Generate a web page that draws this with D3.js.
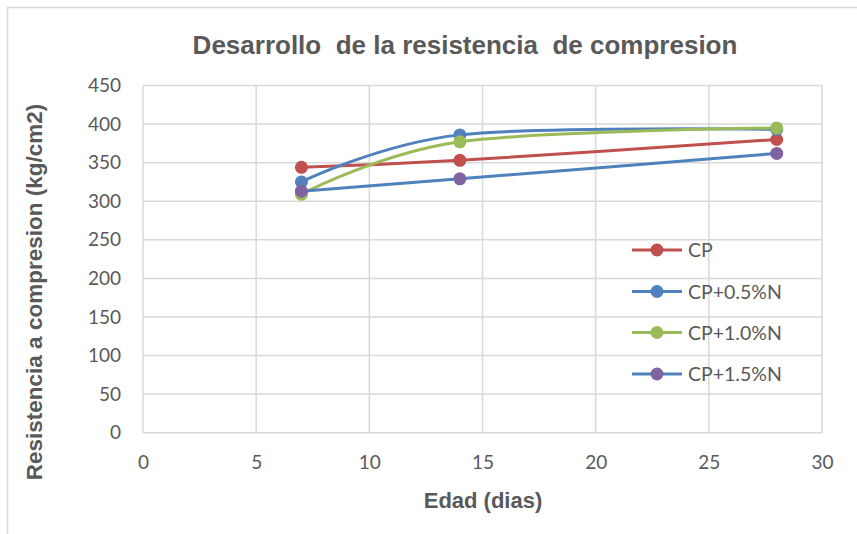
<!DOCTYPE html>
<html>
<head>
<meta charset="utf-8">
<script src="https://cdn.jsdelivr.net/npm/d3@7"></script>
<style>
  html, body { margin: 0; padding: 0; background: #fff; }
  svg { display: block; }
  text { white-space: pre; }
</style>
</head>
<body>
<svg id="chart" width="857" height="534"></svg>
<script>
// Compressive strength development by age (days)
const ages = [7, 14, 28];
const seriesNames = ["CP", "CP+0.5%N", "CP+1.0%N", "CP+1.5%N"];
const cp     = [344, 353, 380];
const cp05   = [325, 386, 393];
const cp10   = [309, 377, 395];
const cp15   = [313, 329, 362];
const xTicks = [0, 5, 10, 15, 20, 25, 30];
const yTicks = [0, 50, 100, 150, 200, 250, 300, 350, 400, 450];

const lineColors   = ["#C0504D", "#4F81BD", "#9BBB59", "#4F81BD"];
const markerColors = ["#C0504D", "#4F81BD", "#9BBB59", "#8064A2"];
const seriesValues = [cp, cp05, cp10, cp15];

const svg = d3.select("#chart");
const W = 857, H = 534;
const plot = { left: 143, right: 822, top: 85.5, bottom: 432.7 };

// outer chart frame
svg.append("rect").attr("x", 7.5).attr("y", 7.5).attr("width", W + 10).attr("height", H + 10)
  .attr("fill", "#fff").attr("stroke", "#d9d9d9").attr("stroke-width", 1.5);

const x = d3.scaleLinear().domain([0, 30]).range([plot.left, plot.right]);
const y = d3.scaleLinear().domain([0, 450]).range([plot.bottom, plot.top]);

const grid = svg.append("g");
grid.selectAll("line.h").data(yTicks).join("line")
  .attr("x1", plot.left).attr("x2", plot.right)
  .attr("y1", d => y(d)).attr("y2", d => y(d))
  .attr("stroke", "#d9d9d9").attr("stroke-width", 1.5);
grid.selectAll("line.v").data(xTicks).join("line")
  .attr("y1", plot.top).attr("y2", plot.bottom)
  .attr("x1", d => x(d)).attr("x2", d => x(d))
  .attr("stroke", "#d9d9d9").attr("stroke-width", 1.5);

const tickFont = "Lato, 'Open Sans', sans-serif";
// y axis
const yAxis = svg.append("g").attr("transform", `translate(${plot.left},0)`)
  .call(d3.axisLeft(y).tickValues(yTicks).tickSize(0).tickPadding(22));
yAxis.select(".domain").remove();
yAxis.selectAll("text").attr("font-family", tickFont).attr("font-size", 19).attr("fill", "#595959");

// x axis
const xAxis = svg.append("g").attr("transform", `translate(0,${plot.bottom})`)
  .call(d3.axisBottom(x).tickValues(xTicks).tickSize(0).tickPadding(23));
xAxis.select(".domain").remove();
xAxis.selectAll("text").attr("font-family", tickFont).attr("font-size", 19).attr("fill", "#595959");

// titles
svg.append("text").attr("x", 465).attr("y", 53.5).attr("text-anchor", "middle")
  .attr("font-family", "'Liberation Sans', Arial, sans-serif")
  .attr("font-weight", "bold").attr("font-size", 26).attr("fill", "#595959")
  .text("Desarrollo  de la resistencia  de compresion");

svg.append("text").attr("x", 483).attr("y", 508).attr("text-anchor", "middle")
  .attr("font-family", "'Liberation Sans', Arial, sans-serif")
  .attr("font-weight", "bold").attr("font-size", 22).attr("fill", "#595959")
  .text("Edad (dias)");

svg.append("text").attr("transform", "translate(42,292) rotate(-90)").attr("text-anchor", "middle")
  .attr("font-family", "'Liberation Sans', Arial, sans-serif")
  .attr("font-weight", "bold").attr("font-size", 22.5).attr("fill", "#595959")
  .text("Resistencia a compresion (kg/cm2)");

// smoothed lines and markers
const line = d3.line().x((d, i) => x(ages[i])).y(d => y(d)).curve(d3.curveCatmullRom.alpha(0));

seriesValues.forEach((vals, s) => {
  svg.append("path").datum(vals).attr("d", line)
    .attr("fill", "none").attr("stroke", lineColors[s]).attr("stroke-width", 3)
    .attr("stroke-linecap", "round");
});
seriesValues.forEach((vals, s) => {
  svg.append("g").selectAll("circle").data(vals).join("circle")
    .attr("cx", (d, i) => x(ages[i])).attr("cy", d => y(d)).attr("r", 6.5)
    .attr("fill", markerColors[s]);
});

// legend
const legend = svg.append("g");
const legRows = [250, 291.5, 332.5, 374];
seriesNames.forEach((name, i) => {
  const g = legend.append("g").attr("transform", `translate(0,${legRows[i]})`);
  g.append("line").attr("x1", 632).attr("x2", 682).attr("y1", 0).attr("y2", 0)
    .attr("stroke", lineColors[i]).attr("stroke-width", 3);
  g.append("circle").attr("cx", 657).attr("cy", 0).attr("r", 6.5).attr("fill", markerColors[i]);
  g.append("text").attr("x", 688).attr("y", 7).attr("font-family", tickFont)
    .attr("font-size", 19.5).attr("fill", "#595959").text(name);
});
</script>
</body>
</html>
